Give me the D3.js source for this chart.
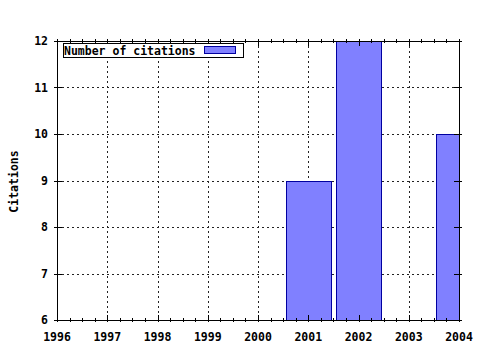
<!DOCTYPE html>
<html>
<head>
<meta charset="utf-8">
<script src="https://cdn.jsdelivr.net/npm/d3@7"></script>
<style>
  body { margin: 0; background: #fff; }
  text { font-family: "DejaVu Sans Mono", monospace; font-weight: bold; font-size: 11.5px; fill: #000; }
</style>
</head>
<body>
<div id="chart"></div>
<script>
// citation counts per year
var years = [2001, 2002, 2004];
var citations = [9, 12, 10];
var xTicks = [1996, 1997, 1998, 1999, 2000, 2001, 2002, 2003, 2004];
var yTicks = [6, 7, 8, 9, 10, 11, 12];
var seriesName = "Number of citations";

var margin = {top: 41, right: 21, bottom: 30, left: 57},
    width = 480 - margin.left - margin.right,
    height = 350 - margin.top - margin.bottom;

var svg = d3.select("#chart")
  .append("svg")
    .attr("width", 480)
    .attr("height", 350)
  .append("g")
    .attr("transform", "translate(" + margin.left + "," + margin.top + ")");

var x = d3.scaleLinear().domain([1996, 2004]).range([0, width]);
var y = d3.scaleLinear().domain([6, 12]).range([height, 0]);

svg.append("defs").append("clipPath").attr("id", "clip")
  .append("rect").attr("width", width).attr("height", height);

// grid
svg.append("g").selectAll("line").data(xTicks.slice(1, -1)).enter().append("line")
  .attr("x1", function(d) { return Math.round(x(d)) + 0.5; })
  .attr("x2", function(d) { return Math.round(x(d)) + 0.5; })
  .attr("y1", 0).attr("y2", height)
  .attr("stroke", "#222").attr("stroke-dasharray", "2,3");
svg.append("g").selectAll("line").data(yTicks.slice(1, -1)).enter().append("line")
  .attr("y1", function(d) { return Math.round(y(d)) + 0.5; })
  .attr("y2", function(d) { return Math.round(y(d)) + 0.5; })
  .attr("x1", 0).attr("x2", width)
  .attr("stroke", "#222").attr("stroke-dasharray", "2,3");

// bars
svg.append("g").attr("clip-path", "url(#clip)")
  .selectAll("rect").data(years).enter().append("rect")
    .attr("x", function(d) { return Math.round(x(d - 0.45)) + 0.5; })
    .attr("width", function(d) { return Math.round(x(d + 0.45) - x(d - 0.45)); })
    .attr("y", function(d, i) { return Math.round(y(citations[i])) + 0.5; })
    .attr("height", function(d, i) { return height - Math.round(y(citations[i])) + 1; })
    .attr("fill", "#8080ff")
    .attr("stroke", "#0000a0");

// ticks (both axes mirrored)
var minor = d3.range(1996, 2004.001, 0.25);
svg.append("g").selectAll("line").data(minor).enter().append("line")
  .attr("x1", function(d) { return Math.round(x(d)) + 0.5; })
  .attr("x2", function(d) { return Math.round(x(d)) + 0.5; })
  .attr("y1", function(d) { return d % 1 === 0 ? height - 5 : height - 2; })
  .attr("y2", height + 2)
  .attr("stroke", "#000");
svg.append("g").selectAll("line").data(minor).enter().append("line")
  .attr("x1", function(d) { return Math.round(x(d)) + 0.5; })
  .attr("x2", function(d) { return Math.round(x(d)) + 0.5; })
  .attr("y1", -2)
  .attr("y2", function(d) { return d % 1 === 0 ? 5 : 2; })
  .attr("stroke", "#000");
svg.append("g").selectAll("line").data(yTicks).enter().append("line")
  .attr("y1", function(d) { return Math.round(y(d)) + 0.5; })
  .attr("y2", function(d) { return Math.round(y(d)) + 0.5; })
  .attr("x1", -3).attr("x2", 5)
  .attr("stroke", "#000");
svg.append("g").selectAll("line").data(yTicks).enter().append("line")
  .attr("y1", function(d) { return Math.round(y(d)) + 0.5; })
  .attr("y2", function(d) { return Math.round(y(d)) + 0.5; })
  .attr("x1", width - 5).attr("x2", width + 3)
  .attr("stroke", "#000");

// border
svg.append("rect")
  .attr("x", 0.5).attr("y", 0.5)
  .attr("width", width).attr("height", height)
  .attr("fill", "none").attr("stroke", "#000");

// tick labels
svg.append("g").selectAll("text").data(xTicks).enter().append("text")
  .attr("x", function(d) { return x(d); })
  .attr("y", height + 21)
  .attr("text-anchor", "middle")
  .text(function(d) { return d; });
svg.append("g").selectAll("text").data(yTicks).enter().append("text")
  .attr("x", -9)
  .attr("y", function(d) { return y(d) + 4; })
  .attr("text-anchor", "end")
  .text(function(d) { return d; });

// axis title
svg.append("text")
  .attr("transform", "translate(" + (18 - margin.left) + "," + (height / 2 + 1) + ") rotate(-90)")
  .attr("text-anchor", "middle")
  .text("Citations");

// legend
var legend = svg.append("g").attr("transform", "translate(6,2)");
legend.append("rect")
  .attr("x", 0.5).attr("y", 0.5).attr("width", 180).attr("height", 14)
  .attr("fill", "#fff").attr("stroke", "#000");
legend.append("text").attr("x", 1).attr("y", 11.5).text(seriesName);
legend.append("rect")
  .attr("x", 141.5).attr("y", 3.5).attr("width", 31).attr("height", 7)
  .attr("fill", "#8080ff").attr("stroke", "#0000a0");
</script>
</body>
</html>
